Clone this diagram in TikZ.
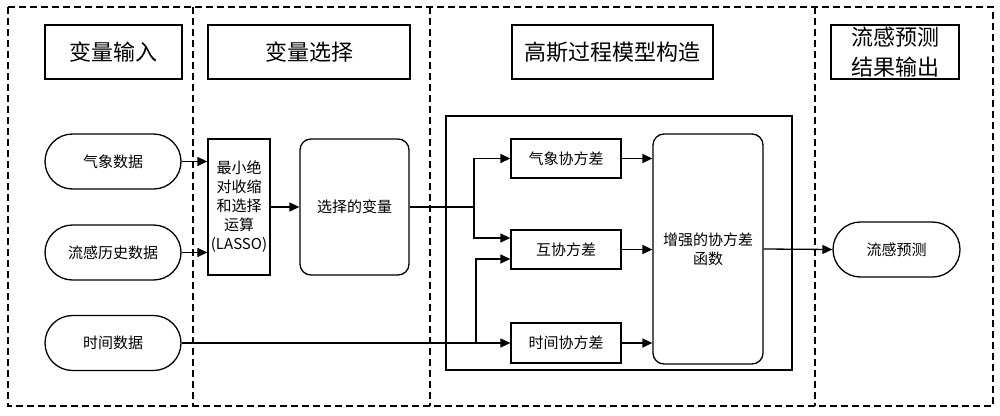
\documentclass[tikz,border=0pt]{standalone}
\usepackage{fontspec}
\setmainfont{Noto Sans CJK SC}
\usetikzlibrary{arrows.meta}
\usetikzlibrary{positioning}
\usetikzlibrary{shapes.misc}

\begin{document}
\begin{tikzpicture}[x=1pt,y=-1pt]
% styles
\tikzstyle cadrepointille=[draw=black,line width=1.2pt,dash pattern=on 7pt off 4pt]
\tikzstyle titre=[draw=black,line width=1.3pt,inner sep=0pt,minimum height=54pt,font=\fontsize{22}{32}\selectfont,align=center]
\tikzstyle donnee=[draw=black,line width=1.3pt,rounded rectangle,inner sep=0pt,minimum width=136pt,minimum height=55pt,font=\fontsize{15}{19}\selectfont]
\tikzstyle boite=[draw=black,line width=1.3pt,inner sep=0pt,font=\fontsize{15}{19}\selectfont,align=center]
\tikzstyle boiteronde=[boite,rounded corners=11pt]
\tikzstyle fleche=[line width=1.3pt,-{Triangle[length=10pt,width=9pt]}]
\tikzstyle trait=[line width=1.3pt]
\useasboundingbox (0,0) rectangle (1000,415);
% les colonnes
\draw [cadrepointille] (8,7) rectangle (993,406);
\foreach \x in {193,430,815}
    \draw [cadrepointille] (\x,7) -- (\x,406);
% les titres
\node [titre,minimum width=137pt] (titreentree) at (113.5,52) {变量输入};
\node [titre,minimum width=202pt] (titreselection) at (309,52) {变量选择};
\node [titre,minimum width=201pt] (titremodele) at (612.5,52) {高斯过程模型构造};
\node [titre,minimum width=128pt] (titresortie) at (895,52) {流感预测\\[-2pt]结果输出};
% les données
\node [donnee] (qixiang) at (113,161.5) {气象数据};
\node [donnee] (liugan) at (113,252.5) {流感历史数据};
\node [donnee] (shijian) at (113,343) {时间数据};
% la sélection
\node [boite,minimum width=62pt,minimum height=136pt] (lasso) at (239,207) {最小绝\\对收缩\\和选择\\运算\\(LASSO)};
\node [boiteronde,minimum width=109pt,minimum height=136pt] (selvar) at (354.5,207) {选择的变量};
% le modèle
\draw [trait] (446,116) rectangle (792,370);
\node [boite,minimum width=110pt,minimum height=39pt] (covqixiang) at (566,158.5) {气象协方差};
\node [boite,minimum width=110pt,minimum height=39pt] (covhu) at (566,249.5) {互协方差};
\node [boite,minimum width=110pt,minimum height=40pt] (covshijian) at (566,343) {时间协方差};
\node [boiteronde,minimum width=110pt,minimum height=230pt] (covplus) at (708,249) {增强的协方差\\函数};
% la sortie
\node [donnee,minimum width=127pt] (prediction) at (896.5,249.5) {流感预测};
% les flèches
\coordinate (embranche) at (474,207);
\coordinate (embranchet) at (476,343);
\draw [fleche] (qixiang.east) -- (qixiang.east -| lasso.west);
\draw [fleche] (liugan.east) -- (liugan.east -| lasso.west);
\draw [fleche] (lasso.east) -- (selvar.west);
\draw [trait] (selvar.east) -- (embranche);
\draw [fleche] (embranche) |- (covqixiang.west);
\draw [fleche] (embranche) |- ([yshift=11.5pt]covhu.west);
\draw [fleche] (shijian.east) -- (covshijian.west);
\draw [fleche] (embranchet) |- ([yshift=-9.5pt]covhu.west);
\draw [fleche] (covqixiang.east) -- (covqixiang.east -| covplus.west);
\draw [fleche] (covhu.east) -- (covhu.east -| covplus.west);
\draw [fleche] (covshijian.east) -- (covshijian.east -| covplus.west);
\draw [fleche] (covplus.east) -- (prediction.west);
\end{tikzpicture}
\end{document}
